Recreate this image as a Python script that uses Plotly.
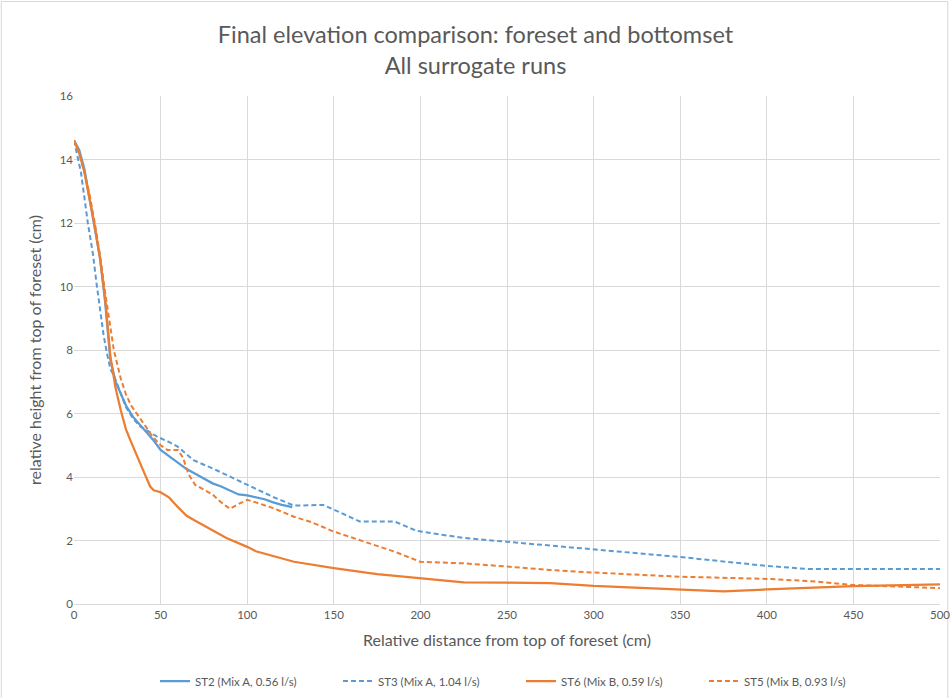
import plotly.graph_objects as go

# ---- data ----
st2_x = [0, 3, 6, 9, 12, 15, 18, 21, 24, 27, 30, 34, 38, 42, 46, 50, 55, 60, 65, 70, 75, 80, 85, 90, 95, 100, 105, 110, 115, 120, 126]
st2_y = [14.6, 14.3, 13.7, 12.8, 11.9, 10.9, 9.5, 7.7, 7.0, 6.6, 6.25, 5.9, 5.65, 5.4, 5.15, 4.85, 4.65, 4.45, 4.25, 4.1, 3.95, 3.8, 3.7, 3.58, 3.45, 3.42, 3.35, 3.3, 3.2, 3.12, 3.05]

st3_x = [0, 4, 8, 11, 13, 15, 17, 19, 21, 23, 26, 30, 34, 38, 48, 55, 60, 69, 82, 100, 115, 127, 136, 144, 165, 185, 198, 225, 250, 275, 300, 350, 400, 424, 500]
st3_y = [14.6, 13.6, 12.0, 11.0, 10.1, 9.3, 8.5, 7.9, 7.4, 7.2, 6.75, 6.2, 5.85, 5.6, 5.27, 5.1, 4.95, 4.53, 4.22, 3.75, 3.37, 3.1, 3.12, 3.12, 2.6, 2.6, 2.3, 2.08, 1.96, 1.84, 1.72, 1.48, 1.2, 1.1, 1.1]

st6_x = [0, 3, 6, 9, 12, 15, 18, 21, 24, 27, 30, 33, 36, 40, 44, 46, 50, 55, 60, 65, 70, 77, 88, 100, 105, 127, 150, 175, 200, 225, 250, 275, 300, 350, 375, 400, 450, 500]
st6_y = [14.6, 14.2, 13.6, 12.8, 11.9, 10.9, 9.6, 7.8, 6.8, 6.1, 5.5, 5.1, 4.7, 4.2, 3.7, 3.58, 3.52, 3.35, 3.05, 2.78, 2.62, 2.4, 2.08, 1.8, 1.66, 1.33, 1.13, 0.94, 0.82, 0.68, 0.67, 0.66, 0.57, 0.47, 0.4, 0.46, 0.56, 0.62]

st5_x = [0, 3, 6, 9, 12, 15, 18, 20, 23, 27, 30, 33, 36, 40, 45, 50, 54, 57, 60, 63, 66, 70, 75, 80, 85, 90, 95, 100, 105, 115, 127, 137, 150, 170, 185, 200, 225, 250, 275, 300, 350, 400, 425, 450, 475, 500]
st5_y = [14.6, 14.2, 13.6, 12.9, 12.0, 11.0, 9.8, 9.1, 8.0, 7.1, 6.6, 6.25, 6.0, 5.7, 5.3, 5.0, 4.85, 4.85, 4.85, 4.6, 4.1, 3.75, 3.6, 3.45, 3.2, 3.0, 3.15, 3.28, 3.2, 3.02, 2.75, 2.58, 2.28, 1.92, 1.65, 1.33, 1.28, 1.18, 1.07, 0.99, 0.86, 0.79, 0.72, 0.6, 0.55, 0.5]

names = ["ST2 (Mix A, 0.56 l/s)", "ST3 (Mix A, 1.04 l/s)", "ST6 (Mix B, 0.59 l/s)", "ST5 (Mix B, 0.93 l/s)"]
x_ticks = [0, 50, 100, 150, 200, 250, 300, 350, 400, 450, 500]
y_ticks = [0, 2, 4, 6, 8, 10, 12, 14, 16]

BLUE = "#5B9BD5"
ORANGE = "#ED7D31"
GREY = "#595959"
FONT = "Lato"
DASH = "5px,3px"

fig = go.Figure()
fig.add_trace(go.Scatter(x=st2_x, y=st2_y, mode="lines", name=names[0],
                         line=dict(color=BLUE, width=2.25)))
fig.add_trace(go.Scatter(x=st3_x, y=st3_y, mode="lines", name=names[1],
                         line=dict(color=BLUE, width=2, dash=DASH)))
fig.add_trace(go.Scatter(x=st6_x, y=st6_y, mode="lines", name=names[2],
                         line=dict(color=ORANGE, width=2.25)))
fig.add_trace(go.Scatter(x=st5_x, y=st5_y, mode="lines", name=names[3],
                         line=dict(color=ORANGE, width=2, dash=DASH)))

fig.update_layout(
    width=951, height=698,
    paper_bgcolor="white", plot_bgcolor="white",
    margin=dict(l=74, r=11, t=96, b=94, autoexpand=False),
    font=dict(family=FONT, color=GREY),
    title=dict(text="Final elevation comparison: foreset and bottomset<br>All surrogate runs",
               x=0.5, xanchor="center", y=0.938, yanchor="middle",
               font=dict(family=FONT, size=23.5, color=GREY)),
    xaxis=dict(range=[0, 500], tickvals=x_ticks, showgrid=True, gridcolor="#D9D9D9",
               gridwidth=1, zeroline=False, showline=True, linecolor="#D9D9D9",
               tickfont=dict(size=11.5, color=GREY), ticks="", automargin=False,
               title=dict(text="Relative distance from top of foreset (cm)",
                          font=dict(size=16, color=GREY), standoff=15)),
    yaxis=dict(range=[0, 16], tickvals=y_ticks, showgrid=True, gridcolor="#D9D9D9",
               gridwidth=1, zeroline=False, showline=False, automargin=False,
               tickfont=dict(size=11.5, color=GREY), ticks="",
               title=dict(text="relative height from top of foreset (cm)",
                          font=dict(size=16, color=GREY), standoff=14)),
    legend=dict(orientation="h", x=0.0935, xanchor="left", y=-0.1516, yanchor="middle",
                font=dict(size=11.5, color=GREY), entrywidth=138, entrywidthmode="pixels",
                itemwidth=30, bgcolor="rgba(0,0,0,0)"),
    showlegend=True,
    shapes=[dict(type="rect", xref="paper", yref="paper",
                 x0=-0.084, x1=1.009, y0=-0.186, y1=1.186,
                 line=dict(color="#D9D9D9", width=1), fillcolor="rgba(0,0,0,0)", layer="below")],
)

fig.write_html("out.html", config={"displayModeBar": False},
               post_script="document.body.style.margin='0px';")
